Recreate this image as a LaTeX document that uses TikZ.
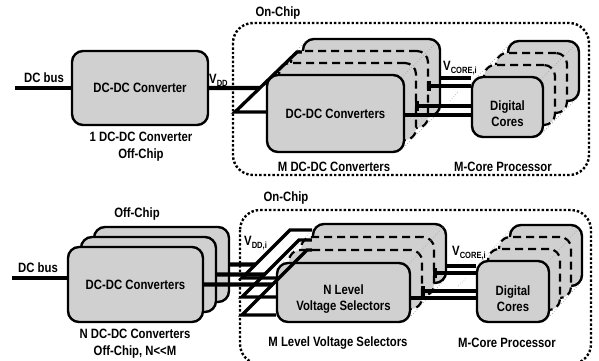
\documentclass[tikz,border=0pt]{standalone}
\usepackage{fontspec}
\newfontfamily\figfont[FakeStretch=0.84]{Liberation Sans}
\usetikzlibrary{calc,positioning}
\definecolor{boxgray}{HTML}{D0D0D0}
\tikzset{
  blk/.style={draw,line width=2.4pt,rounded corners=11pt,fill=boxgray,inner sep=0pt},
  ghost/.style={blk,line width=2.2pt,dash pattern=on 8pt off 5pt},
  wire/.style={line width=3.3pt},
  feed/.style={line width=4.2pt},
  chipline/.style={line width=2.4pt,dash pattern=on 2.4pt off 2pt,rounded corners=20pt},
  persp/.style={gray!70,dotted,line width=0.7pt},
  lbl/.style={align=center,inner sep=0pt},
  dcsize/.style={minimum width=137pt,minimum height=77pt},
  crsize/.style={minimum width=71pt,minimum height=60pt},
  nsize/.style={minimum width=135pt,minimum height=75pt},
  selsize/.style={minimum width=133pt,minimum height=59pt},
  cbsize/.style={minimum width=72pt,minimum height=61pt}
}
\newcommand{\lowtxt}[1]{\raisebox{-3pt}{\fontsize{9}{9}\selectfont#1}}
\newcommand{\edgelines}[2]{%
  \foreach \k/\j in {#2}{%
    \draw[persp] ($(#1\k.north west)+(3.5,3.5)$) -- ($(#1\j.north west)+(3.5,3.5)$);
    \draw[persp] ($(#1\k.north east)+(-3.5,3.5)$) -- ($(#1\j.north east)+(-3.5,3.5)$);
    \draw[persp] ($(#1\k.south east)+(-3.5,-3.5)$) -- ($(#1\j.south east)+(-3.5,-3.5)$);}}

\begin{document}
\begin{tikzpicture}[x=1pt,y=-1pt,font=\figfont\bfseries\fontsize{13.5}{16}\selectfont]
\useasboundingbox (0,0) rectangle (599,360);

% ---- top: one converter off chip
\coordinate (busA) at (15,88);
\node[blk,minimum width=136pt,minimum height=74pt] (conv) at (140,88) {DC-DC Converter};
\draw[feed] (busA) -- (conv);
\node[lbl,anchor=base] (busAtxt) at (44,82) {DC bus};
\node[lbl,font=\figfont\bfseries\fontsize{13.5}{17}\selectfont] (convcap) at (141,146.5) {1 DC-DC Converter\\Off-Chip};

\draw[chipline] (233,23) rectangle (589,175);
\node[lbl] (chipA) at (278,13) {On-Chip};

% M converters
\coordinate (dcpos) at (335.5,113.5);
\foreach \k/\s in {3/blk,2/ghost,1/ghost}
  \node[\s,dcsize] (dc\k) at ($(dcpos)+(12*\k,-12*\k)$) {};
\node[blk,dcsize] (dc0) at (dcpos) {DC-DC Converters};
\edgelines{dc}{0/1,1/2,2/3}

% feed diagonal
\coordinate (dgA) at (235,112);
\coordinate (dgB) at (297,52);
\draw[wire] (dc0.west |- dgA) -- (dgA) -- (dgB) -- (dc3.west |- dgB);
\draw[feed] (conv) -- ($(dgA)!0.4!(dgB)$);
\node[lbl,anchor=base west] (vdd) at (209,83.5) {V\lowtxt{DD}};

% cores
\coordinate (crpos) at (507.5,107);
\foreach \k/\s in {3/blk,2/ghost,1/ghost}
  \node[\s,crsize] (cr\k) at ($(crpos)+(12*\k,-12*\k)$) {};
\node[blk,crsize] (cr0) at (crpos) {};
\edgelines{cr}{0/1,1/2,2/3}
\node[lbl] (crtxt) at ($(crpos)+(0,7)$) {Digital\\Cores};

\foreach \k/\yy in {3/78,2/86,1/106,0/115}
  \draw[wire] (dc\k.east |- 0,\yy) -- (cr0.west |- 0,\yy);
\foreach \k/\yy in {2/86,1/106}
  \draw[wire] ($(dc\k.east |- 0,\yy)+(0,-5)$) -- ++(0,10);
\draw[persp] (450,101) -- (459,91);
\node[lbl,anchor=base west] (vcore) at (443,70) {V\lowtxt{CORE,i}};

\node[lbl] (dccap) at (334,167) {M DC-DC Converters};
\node[lbl] (crcap) at (503,167) {M-Core Processor};

% ---- bottom: N converters off chip
\node[lbl] (offB) at (137,214) {Off-Chip};
\coordinate (npos) at (135.5,284.5);
\foreach \k in {2,1}
  \node[blk,nsize] (n\k) at ($(npos)+(13*\k,-10*\k)$) {};
\node[blk,nsize] (n0) at (npos) {DC-DC Converters};
\coordinate (busB) at (12,278);
\draw[feed] (busB) -- (busB -| n0.west);
\node[lbl,anchor=base] (busBtxt) at (38,272) {DC bus};
\node[lbl,font=\figfont\bfseries\fontsize{13.5}{17}\selectfont] (ncap) at (135,343.5) {N DC-DC Converters\\Off-Chip, N<<M};

\draw[chipline] (240,210) rectangle (591,364);
\node[lbl] (chipB) at (286,198) {On-Chip};

% level selectors
\coordinate (selpos) at (343.5,292.5);
\foreach \k/\s in {3/blk,2/ghost,1/ghost}
  \node[\s,selsize] (sel\k) at ($(selpos)+(12*\k,-13*\k)$) {};
\node[blk,selsize] (sel0) at (selpos) {};
\edgelines{sel}{0/1,1/2,2/3}
\node[lbl] (seltxt) at ($(selpos)+(0,7)$) {N Level\\Voltage Selectors};

% level diagonals
\coordinate (db1) at (242,278); \coordinate (dt1) at (290,230);
\coordinate (db2) at (242,297); \coordinate (dt2) at (299,240);
\coordinate (db3) at (242,315); \coordinate (dt3) at (307,250);
\foreach \i/\tt/\nn in {1/0.281/2,2/0.395/1,3/0.469/0}{
  \draw[wire] (sel0.west |- db\i) -- (db\i) -- (dt\i) -- (sel3.west |- dt\i);
  \draw[feed] (n\nn.east) -- ($(db\i)!\tt!(dt\i)$);
}
\node[lbl,anchor=base west] (vddi) at (244,245) {V\lowtxt{DD,i}};

% cores
\coordinate (cbpos) at (513,291.5);
\foreach \k/\s in {3/blk,2/ghost,1/ghost}
  \node[\s,cbsize] (cb\k) at ($(cbpos)+(11*\k,-12*\k)$) {};
\node[blk,cbsize] (cb0) at (cbpos) {};
\edgelines{cb}{0/1,1/2,2/3}
\node[lbl] (cbtxt) at ($(cbpos)+(0,7)$) {Digital\\Cores};

\foreach \k/\yy in {3/266,2/273,1/291,0/298}
  \draw[wire] (sel\k.east |- 0,\yy) -- (cb0.west |- 0,\yy);
\foreach \k/\yy in {2/273,1/291}
  \draw[wire] ($(sel\k.east |- 0,\yy)+(0,-5)$) -- ++(0,10);
\draw[persp] (458,286) -- (466,278);
\node[lbl,anchor=base west] (vcoreb) at (452,255) {V\lowtxt{CORE,i}};

\node[lbl] (selcap) at (338,343) {M Level Voltage Selectors};
\node[lbl] (cbcap) at (507,343) {M-Core Processor};
\end{tikzpicture}
\end{document}
